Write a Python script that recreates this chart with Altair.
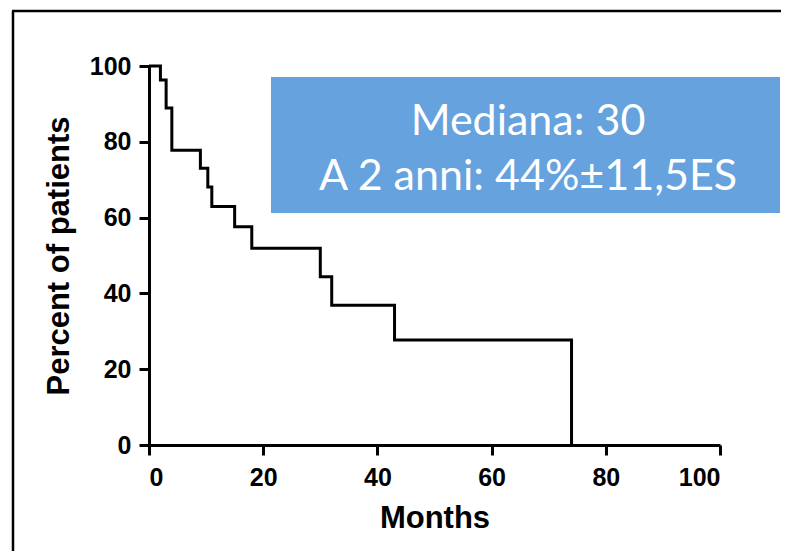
import altair as alt
import pandas as pd

# Kaplan-Meier step curve (months, percent of patients)
months = [0, 2, 3, 4, 9, 10.3, 11, 15, 18, 30, 32, 43, 74]
percent = [100, 96.3, 88.9, 77.8, 73.0, 68.1, 62.9, 57.6, 51.9, 44.4, 36.9, 27.7, 0]

x_ticks = [0, 20, 40, 60, 80, 100]
y_ticks = [0, 20, 40, 60, 80, 100]

box_lines = ["Mediana: 30", "A 2 anni: 44%±11,5ES"]

df = pd.DataFrame({"month": months, "pct": percent})

W, H = 571, 379
PAD_L, PAD_T = 141, 58

x_scale = alt.Scale(domain=[0, 100], nice=False, zero=False)
y_scale = alt.Scale(domain=[0, 100], nice=False)

axis_common = dict(
    domainColor="black", domainWidth=3, tickColor="black", tickWidth=3,
    tickSize=10, labelFont="Liberation Sans", labelFontWeight="bold",
    labelFontSize=25, labelColor="black", titleFont="Liberation Sans",
    titleFontWeight="bold", titleFontSize=31, titleColor="black", grid=False,
)

line = alt.Chart(df).mark_line(
    interpolate="step-after", color="black", strokeWidth=3, clip=False
).encode(
    x=alt.X("month:Q", scale=x_scale,
            axis=alt.Axis(values=x_ticks, title="Months", labelPadding=10,
                          titlePadding=13, **axis_common)),
    y=alt.Y("pct:Q", scale=y_scale,
            axis=alt.Axis(values=y_ticks, title="Percent of patients", labelPadding=8,
                          titlePadding=14, **axis_common)),
)

box = alt.Chart(pd.DataFrame({"k": [0]})).mark_rect(color="#66a2dd", clip=False).encode(
    x=alt.value(271 - 149), x2=alt.value(780 - 149),
    y=alt.value(77 - 66), y2=alt.value(213 - 66),
)

def box_text(s, ypix):
    return alt.Chart(pd.DataFrame({"line": [s]})).mark_text(
        font="Lato", fontSize=43, color="white", align="center",
        baseline="alphabetic", clip=False,
    ).encode(text="line:N", x=alt.value(528 - 149), y=alt.value(ypix - 66))

txt1 = box_text(box_lines[0], 135)
txt2 = box_text(box_lines[1], 190)

frame_left = alt.Chart(pd.DataFrame({"k": [0]})).mark_rule(color="black", strokeWidth=2.5, clip=False).encode(
    x=alt.value(13 - 149), y=alt.value(11 - 66), y2=alt.value(560 - 66),
)
frame_top = alt.Chart(pd.DataFrame({"k": [0]})).mark_rule(color="black", strokeWidth=2.5, clip=False).encode(
    x=alt.value(12 - 149), x2=alt.value(800 - 149), y=alt.value(11 - 66),
)

chart = alt.layer(frame_left, frame_top, box, txt1, txt2, line).properties(
    width=W, height=H,
    view=alt.ViewBackground(stroke="transparent", strokeWidth=0),
    autosize=alt.AutoSizeParams(type="none"),
    padding={"left": PAD_L, "top": PAD_T, "right": 773 - PAD_L - W, "bottom": 543 - PAD_T - H},
).configure_view(strokeWidth=0, stroke="transparent").configure(background="white")

chart.save("out.html", embed_options={"renderer": "svg", "actions": False})
